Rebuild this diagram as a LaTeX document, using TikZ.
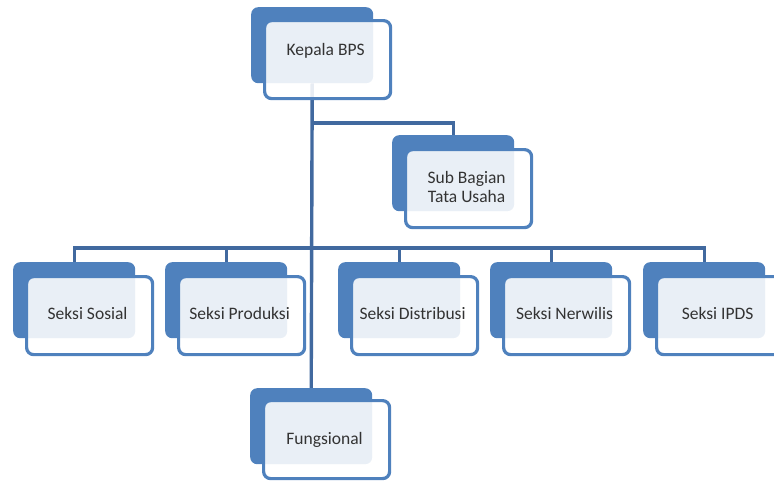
\documentclass[tikz,border=0pt]{standalone}
\usepackage{fontspec}
\setmainfont{Carlito}
\pgfdeclarelayer{bg}
\pgfsetlayers{bg,main}
\definecolor{boxblue}{HTML}{4F81BD}
\definecolor{linkblue}{HTML}{41699F}
\definecolor{txt}{HTML}{333333}
\begin{document}
\begin{tikzpicture}[x=1pt,y=-1pt,
  backbox/.style={fill=boxblue, draw=none, rounded corners=7pt, minimum width=122pt, minimum height=76pt, inner sep=0pt, anchor=north west},
  frontbox/.style={fill=white, fill opacity=0.88, draw=boxblue, draw opacity=1, line width=3.2pt, rounded corners=7pt, minimum width=126pt, minimum height=78pt, inner sep=0pt, anchor=north west},
  lbl/.style={text=txt, font=\fontsize{17.5}{19}\selectfont, align=center, text opacity=1, fill opacity=1},
  link/.style={draw=linkblue, line width=3.4pt}]
\useasboundingbox (0,0) rectangle (774,480);
% Kepala BPS
\node[backbox] (kb) at (251,7) {};
\node[frontbox, label={[lbl,xshift=-2pt,yshift=9pt]center:Kepala BPS}] (kf) at (263,19) {};
% Sub Bagian
\node[backbox] (sbb) at (392,135) {};
\node[frontbox, label={[lbl,xshift=-2pt,yshift=2pt]center:Sub Bagian\\Tata Usaha}] (sbf) at (404,148) {};
% Seksi row
\node[backbox] (s1b) at (13,262) {};
\node[frontbox, label={[lbl,xshift=-2pt,yshift=2pt]center:Seksi Sosial}] (s1f) at (25,275) {};
\node[backbox] (s2b) at (165,262) {};
\node[frontbox, label={[lbl,xshift=-2pt,yshift=2pt]center:Seksi Produksi}] (s2f) at (177,275) {};
\node[backbox] (s3b) at (338,262) {};
\node[frontbox, label={[lbl,xshift=-2pt,yshift=2pt]center:Seksi Distribusi}] (s3f) at (350,275) {};
\node[backbox] (s4b) at (490,262) {};
\node[frontbox, label={[lbl,xshift=-2pt,yshift=2pt]center:Seksi Nerwilis}] (s4f) at (502,275) {};
\node[backbox] (s5b) at (643,262) {};
\node[frontbox, label={[lbl,xshift=-2pt,yshift=2pt]center:Seksi IPDS}] (s5f) at (655,275) {};
% Fungsional
\node[backbox] (fb) at (250,388) {};
\node[frontbox, label={[lbl,xshift=-2pt,yshift=0pt]center:Fungsional}] (ff) at (262,399) {};
% connectors
\begin{pgfonlayer}{bg}
\coordinate (j1) at (kb.south |- 0,123);
\coordinate (j2) at (kb.south |- 0,248);
\draw[link] (kb.south) -- (fb.north);
\draw[link] (j1) -| (sbb.north);
\draw[link] (j2) -| (s1b.north);
\draw[link] (j2) -| (s2b.north);
\draw[link] (j2) -| (s3b.north);
\draw[link] (j2) -| (s4b.north);
\draw[link] (j2) -| (s5b.north);
\end{pgfonlayer}
\end{tikzpicture}
\end{document}
